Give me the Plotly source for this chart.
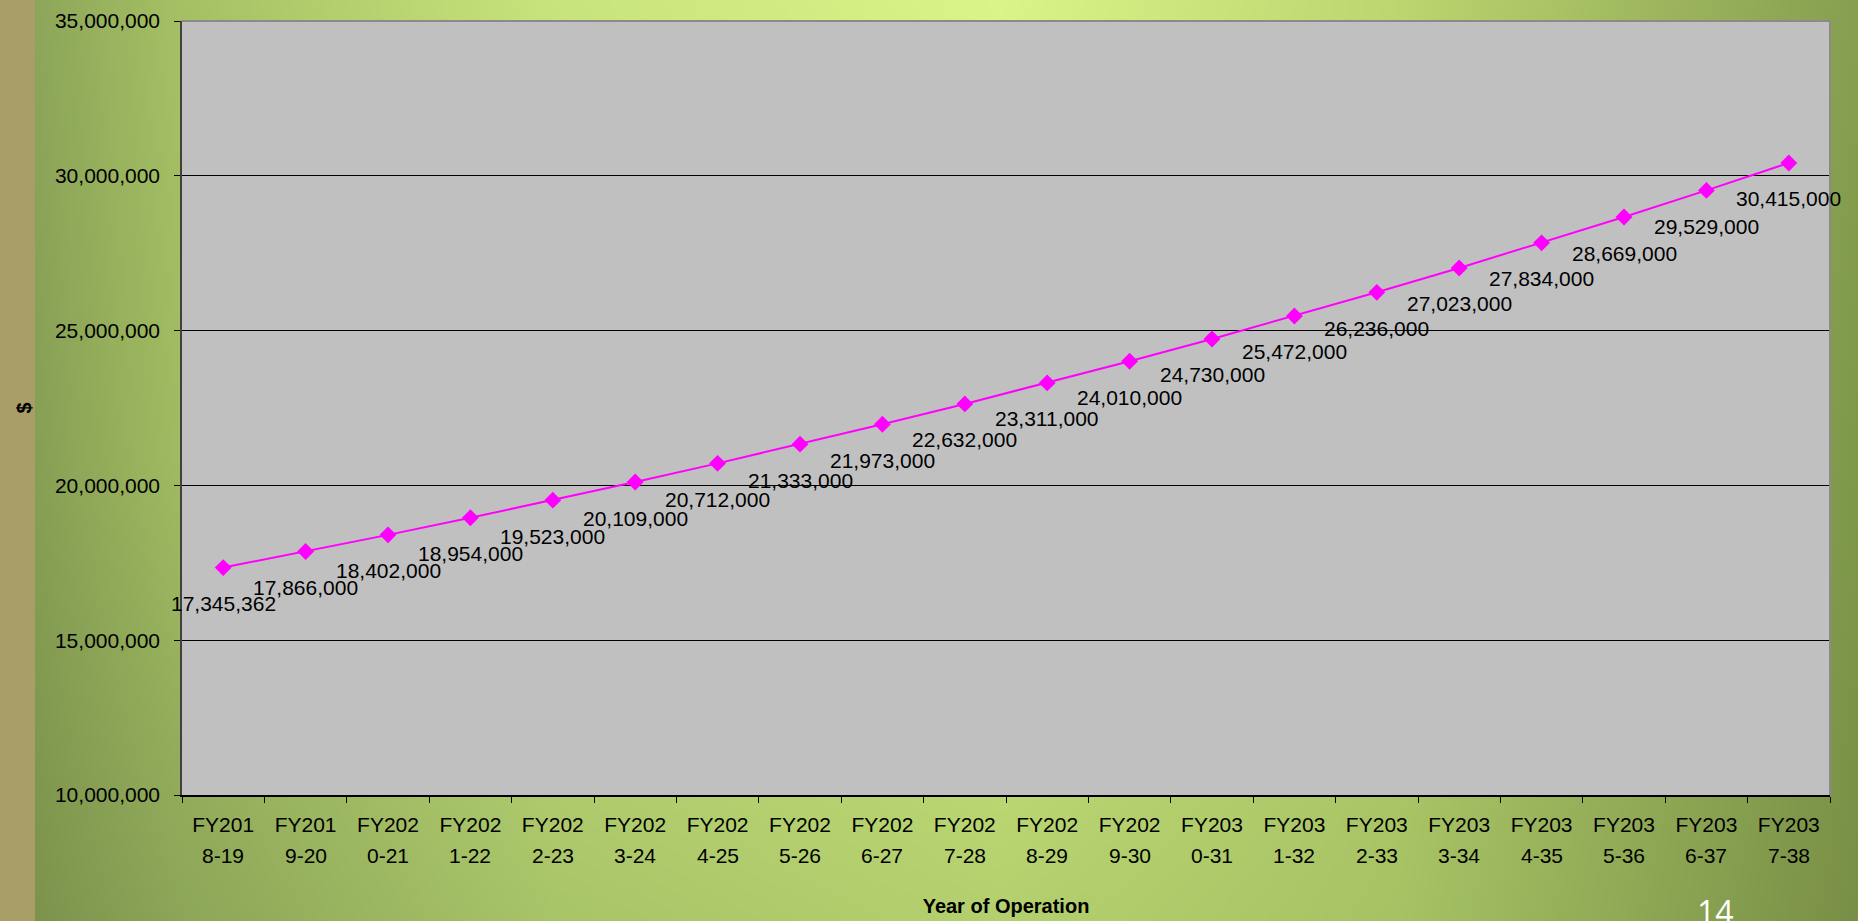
import base64
import struct
import zlib

import numpy as np
import plotly.graph_objects as go

# ---------------- data ----------------
categories = [
    "FY2018-19", "FY2019-20", "FY2020-21", "FY2021-22", "FY2022-23",
    "FY2023-24", "FY2024-25", "FY2025-26", "FY2026-27", "FY2027-28",
    "FY2028-29", "FY2029-30", "FY2030-31", "FY2031-32", "FY2032-33",
    "FY2033-34", "FY2034-35", "FY2035-36", "FY2036-37", "FY2037-38",
]
tick_line1 = [
    "FY201", "FY201", "FY202", "FY202", "FY202",
    "FY202", "FY202", "FY202", "FY202", "FY202",
    "FY202", "FY202", "FY203", "FY203", "FY203",
    "FY203", "FY203", "FY203", "FY203", "FY203",
]
tick_line2 = [
    "8-19", "9-20", "0-21", "1-22", "2-23",
    "3-24", "4-25", "5-26", "6-27", "7-28",
    "8-29", "9-30", "0-31", "1-32", "2-33",
    "3-34", "4-35", "5-36", "6-37", "7-38",
]
values = [
    17345362, 17866000, 18402000, 18954000, 19523000,
    20109000, 20712000, 21333000, 21973000, 22632000,
    23311000, 24010000, 24730000, 25472000, 26236000,
    27023000, 27834000, 28669000, 29529000, 30415000,
]
y_ticks = [10000000, 15000000, 20000000, 25000000, 30000000, 35000000]

W, H = 1858, 921
ML, MR, MT, MB = 182, 28, 21, 126
FONT = "Arial, Liberation Sans, sans-serif"
FS = 21

# ---------------- background gradient (PNG built in memory) ----------------
def make_png(rgb):
    h, w, _ = rgb.shape
    raw = b"".join(b"\x00" + rgb[r].tobytes() for r in range(h))
    def chunk(tag, data):
        c = struct.pack(">I", len(data)) + tag + data
        return c + struct.pack(">I", zlib.crc32(tag + data) & 0xFFFFFFFF)
    png = b"\x89PNG\r\n\x1a\n"
    png += chunk(b"IHDR", struct.pack(">IIBBBBB", w, h, 8, 2, 0, 0, 0))
    png += chunk(b"IDAT", zlib.compress(raw, 9))
    png += chunk(b"IEND", b"")
    return "data:image/png;base64," + base64.b64encode(png).decode()

gx = [35, 180, 550, 1000, 1400, 1858]
gy = [0, 460, 921]
grid = np.array([
    [(140, 165, 90), (165, 192, 100), (200, 228, 124), (218, 245, 136), (188, 214, 112), (134, 158, 80)],
    [(134, 158, 84), (160, 186, 97), (190, 218, 118), (205, 232, 128), (178, 204, 106), (126, 152, 74)],
    [(124, 146, 76), (140, 165, 88), (168, 196, 104), (180, 208, 110), (166, 194, 100), (120, 142, 70)],
], dtype=float)
sw, sh = W // 4, H // 4
px = np.linspace(0, W, sw)
py = np.linspace(0, H, sh)
rows = np.stack([np.stack([np.interp(px, gx, grid[r, :, c]) for c in range(3)], axis=-1) for r in range(3)])
img = np.stack([np.stack([np.interp(py, gy, rows[:, i, c]) for c in range(3)], axis=-1)
                for i in range(sw)], axis=1)
img = np.clip(img, 0, 255).astype(np.uint8)
bg_uri = make_png(img)

pw, ph = W - ML - MR, H - MT - MB

# ---------------- figure ----------------
fig = go.Figure()
fig.add_trace(go.Scatter(
    x=categories, y=values, mode="lines+markers",
    line=dict(color="#FF00FF", width=2),
    marker=dict(symbol="diamond", size=13, color="#FF00FF"),
    hoverinfo="skip", showlegend=False,
))

# data labels
for c, v in zip(categories, values):
    fig.add_annotation(x=c, y=v, text=f"{v:,}", showarrow=False, yshift=-36,
                       xanchor="center", yanchor="middle",
                       font=dict(family=FONT, size=FS, color="#000000"))

# second line of the category labels
for c, t in zip(categories, tick_line2):
    fig.add_annotation(x=c, xref="x", yref="paper", y=0, text=t, showarrow=False,
                       yshift=-60, xanchor="center", yanchor="middle",
                       font=dict(family=FONT, size=FS, color="#000000"))

# slide number
fig.add_annotation(xref="paper", yref="paper", x=(1715 - ML) / pw, y=(H - MB - 888) / ph,
                   text="14", showarrow=False, xanchor="center", yanchor="top",
                   font=dict(family="Open Sans, sans-serif", size=32, color="#FFFFFF"))

fig.add_layout_image(dict(
    source=bg_uri, xref="paper", yref="paper",
    x=-(ML + 10) / pw, y=1 + (MT + 10) / ph, sizex=(W + 20) / pw, sizey=(H + 20) / ph,
    xanchor="left", yanchor="top", sizing="stretch", layer="below",
))

# tan strip at left edge
fig.add_shape(type="rect", xref="paper", yref="paper",
              x0=-(ML + 10) / pw, x1=(35 - ML) / pw, y0=-(MB + 10) / ph, y1=1 + (MT + 10) / ph,
              fillcolor="#A99E68", line=dict(width=0), layer="below")
# gray plot area
fig.add_shape(type="rect", xref="paper", yref="paper", x0=0, x1=1, y0=0, y1=1,
              fillcolor="#C0C0C0", line=dict(width=0), layer="below")
# gray border top & right
fig.add_shape(type="line", xref="x domain", yref="y domain", x0=0, x1=1, y0=1, y1=1,
              line=dict(color="#8A8A8A", width=2))
fig.add_shape(type="line", xref="x domain", yref="y domain", x0=1, x1=1, y0=0, y1=1,
              line=dict(color="#8A8A8A", width=2))

fig.update_layout(
    width=W, height=H, autosize=False,
    margin=dict(l=ML, r=MR, t=MT, b=MB, pad=0, autoexpand=False),
    paper_bgcolor="#9DB862",
    plot_bgcolor="#C0C0C0",
    font=dict(family=FONT, size=FS, color="#000000"),
    xaxis=dict(
        type="category", tickmode="array", tickvals=categories, ticktext=tick_line1,
        range=[-0.5, len(categories) - 0.5], automargin=False,
        tickson="boundaries", ticks="outside", ticklen=6, tickcolor="#000000", tickwidth=1,
        ticklabelstandoff=10,
        showline=True, linecolor="#000000", linewidth=1.5,
        showgrid=False, zeroline=False,
        tickfont=dict(family=FONT, size=FS, color="#000000"),
        title=dict(text="<b>Year of Operation</b>", standoff=64,
                   font=dict(family=FONT, size=20, color="#000000")),
        fixedrange=True,
    ),
    yaxis=dict(
        range=[10000000, 35000000], tickmode="array", tickvals=y_ticks, automargin=False,
        tickformat=",d", ticks="outside", ticklen=6, tickcolor="#000000", tickwidth=1,
        ticklabelstandoff=10,
        showline=True, linecolor="#404040", linewidth=1.5,
        showgrid=True, gridcolor="#000000", gridwidth=1, zeroline=False,
        tickfont=dict(family=FONT, size=FS, color="#000000"),
        title=dict(text="<b>$</b>", standoff=18,
                   font=dict(family=FONT, size=20, color="#000000")),
        fixedrange=True,
    ),
)

fig.write_html("out.html", config={"displayModeBar": False},
               post_script="document.body.style.margin='0';")
